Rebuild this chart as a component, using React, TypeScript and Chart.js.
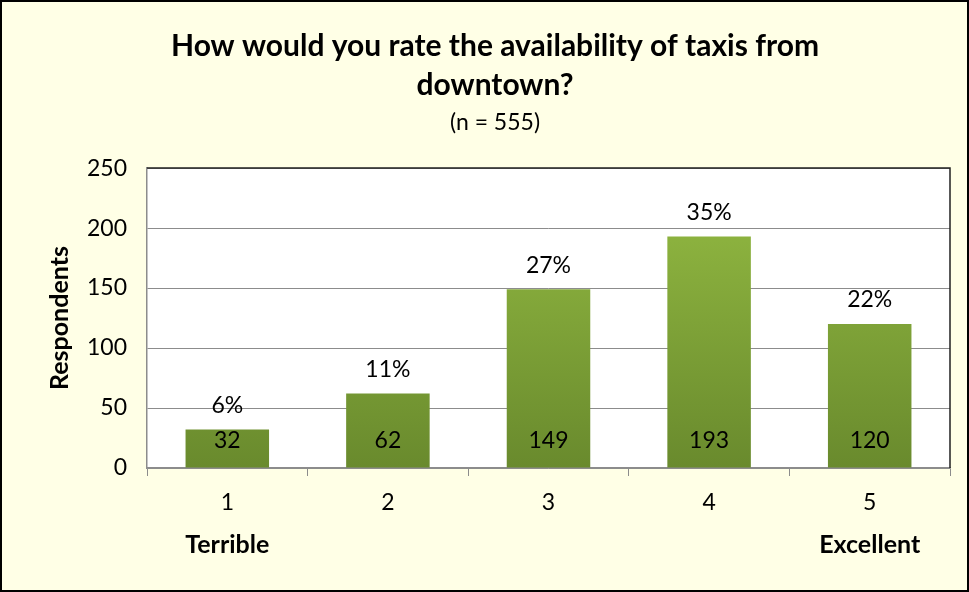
import React, { useEffect, useRef } from "react";
import { Chart, registerables } from "chart.js";

Chart.register(...registerables);

const categories = ["1", "2", "3", "4", "5"];
const anchorLabels = ["Terrible", "", "", "", "Excellent"];
const respondents = [32, 62, 149, 193, 120];
const percentLabels = ["6%", "11%", "27%", "35%", "22%"];
const titleLines = ["How would you rate the availability of taxis from", "downtown?"];
const subtitleText = "(n = 555)";
const yAxisTitle = "Respondents";
const yMax = 250;
const yStep = 50;

const FONT = "Lato, 'Open Sans', sans-serif";

const plotBgPlugin = {
  id: "plotBg",
  beforeDraw(chart: any) {
    const { ctx, chartArea } = chart;
    ctx.save();
    ctx.fillStyle = "#ffffff";
    ctx.fillRect(chartArea.left, chartArea.top, chartArea.right - chartArea.left, chartArea.bottom - chartArea.top);
    ctx.restore();
  },
  afterDraw(chart: any) {
    const { ctx, chartArea } = chart;
    ctx.save();
    ctx.strokeStyle = "#222222";
    ctx.lineWidth = 1.5;
    ctx.beginPath();
    ctx.moveTo(chartArea.left, chartArea.top);
    ctx.lineTo(chartArea.right, chartArea.top);
    ctx.lineTo(chartArea.right, chartArea.bottom);
    ctx.stroke();
    ctx.restore();
  },
};

const labelPlugin = {
  id: "barLabels",
  afterDatasetsDraw(chart: any) {
    const { ctx } = chart;
    const meta = chart.getDatasetMeta(0);
    ctx.save();
    ctx.fillStyle = "#000000";
    ctx.font = `23px ${FONT}`;
    ctx.textAlign = "center";
    ctx.textBaseline = "middle";
    meta.data.forEach((bar: any, i: number) => {
      ctx.fillText(percentLabels[i], bar.x, bar.y - 24);
      ctx.fillText(String(respondents[i]), bar.x, bar.base - 27);
    });
    ctx.restore();
  },
};

export default function App() {
  const ref = useRef<HTMLCanvasElement | null>(null);

  useEffect(() => {
    if (!ref.current) return;
    const chart = new Chart(ref.current, {
      type: "bar",
      data: {
        labels: categories,
        datasets: [
          {
            data: respondents,
            xAxisID: "x",
            yAxisID: "y",
            barPercentage: 0.52,
            categoryPercentage: 1,
            borderWidth: 0,
            backgroundColor: (c: any) => {
              const area = c.chart.chartArea;
              if (!area) return "#7fa038";
              const g = c.chart.ctx.createLinearGradient(0, area.top + 60, 0, area.bottom);
              g.addColorStop(0, "#8db33f");
              g.addColorStop(1, "#698a2d");
              return g;
            },
          },
        ],
      },
      options: {
        responsive: false,
        animation: false,
        layout: { padding: { left: 38, right: 17, top: 0, bottom: 13 } },
        plugins: {
          legend: { display: false },
          tooltip: { enabled: false },
          title: {
            display: true,
            text: titleLines,
            color: "#000000",
            font: { family: FONT, size: 30, weight: "bold", lineHeight: 1.3 },
            padding: { top: 24.5, bottom: 2 },
          },
          subtitle: {
            display: true,
            text: subtitleText,
            color: "#000000",
            font: { family: FONT, size: 23, lineHeight: 1.2 },
            padding: { top: 2, bottom: 32 },
          },
        },
        scales: {
          y: {
            min: 0,
            max: yMax,
            ticks: {
              stepSize: yStep,
              color: "#000000",
              font: { family: FONT, size: 23 },
              padding: 20,
            },
            grid: { color: "#8c8c8c", lineWidth: 1, drawTicks: false },
            border: { color: "#8c8c8c", width: 1.5 },
            title: {
              display: true,
              text: yAxisTitle,
              color: "#000000",
              font: { family: FONT, size: 25, weight: "bold" },
              padding: { top: 5, bottom: 0 },
            },
            afterFit(scale: any) {
              scale.width = 107;
            },
          },
          x: {
            position: "bottom",
            offset: true,
            ticks: {
              color: "#000000",
              font: { family: FONT, size: 23 },
              padding: 13,
            },
            grid: {
              offset: true,
              drawOnChartArea: false,
              drawTicks: true,
              tickLength: 8,
              color: "#8c8c8c",
            },
            border: { color: "#8c8c8c", width: 1.5 },
            afterFit(scale: any) {
              scale.height = 49;
            },
          },
          x2: {
            type: "category",
            position: "bottom",
            labels: anchorLabels,
            offset: true,
            ticks: {
              color: "#000000",
              font: { family: FONT, size: 25, weight: "bold" },
              padding: 13,
              autoSkip: false,
            },
            grid: { display: false, drawTicks: false },
            border: { display: false },
            afterFit(scale: any) {
              scale.height = 60;
            },
          },
        },
      } as any,
      plugins: [plotBgPlugin, labelPlugin],
    });
    return () => chart.destroy();
  }, []);

  return (
    <div
      style={{
        position: "absolute",
        left: 0,
        top: 0,
        width: 969,
        height: 592,
        boxSizing: "border-box",
        border: "2px solid #000",
        background: "#ffffe6",
      }}
    >
      <canvas ref={ref} width={965} height={588} style={{ display: "block" }} />
    </div>
  );
}
